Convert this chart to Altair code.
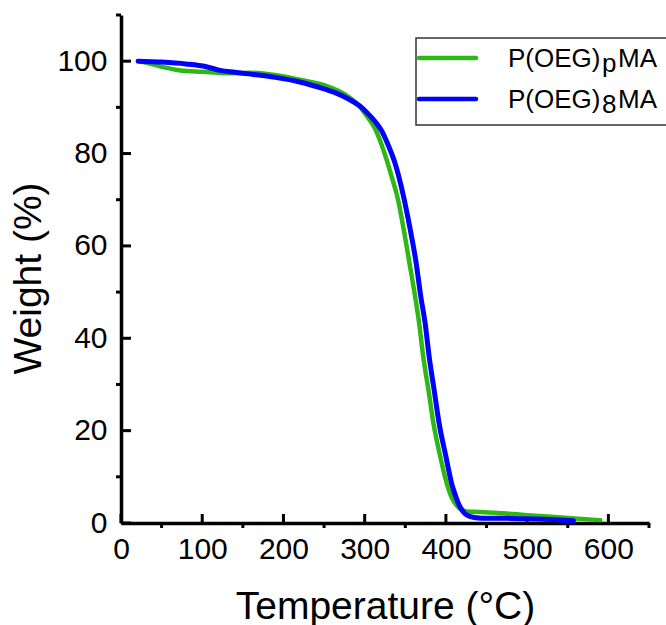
import altair as alt
import pandas as pd

# ---- data ----
series_names = ["P(OEG)pMA", "P(OEG)8MA"]
series_base = ["P(OEG)", "P(OEG)"]
series_sub = ["p", "8"]
series_tail = ["MA", "MA"]
series_colors = ["#2DB814", "#0000FF"]

temp_p = [23, 50, 73, 100, 130, 160, 190, 220, 250, 262, 280, 294, 303, 313, 321,
          328, 334, 340, 348, 355, 362, 367, 372, 378.5, 384.6, 393, 401, 406, 411,
          418, 426, 442, 470, 500, 550, 590]
weight_p = [100, 98.8, 98.0, 97.7, 97.4, 97.5, 97.0, 96.0, 94.8, 94.0, 92.3, 90.2,
            88.0, 85.3, 81.8, 78.1, 74.5, 70.8, 63.6, 56.4, 49.1, 43.3, 36.1, 28.8,
            21.6, 14.4, 8.6, 6.0, 4.3, 3.0, 2.5, 2.4, 2.1, 1.7, 1.1, 0.6]

temp_8 = [21, 50, 80, 105, 122, 140, 160, 190, 220, 250, 262, 280, 294, 302, 310,
          316, 321, 329, 337, 347.7, 356, 363.3, 369, 374.4, 379.3, 385.5, 391.6,
          400, 407, 411, 415, 419, 423, 428, 435, 445, 480, 520, 557]
weight_8 = [100, 99.8, 99.4, 98.8, 98.0, 97.6, 97.2, 96.5, 95.5, 94.0, 93.3, 91.8,
            90.3, 89.0, 87.5, 86.2, 84.9, 81.8, 78.1, 70.8, 63.6, 56.4, 49.1, 43.3,
            36.1, 28.8, 21.6, 14.4, 8.6, 6.3, 4.4, 3.0, 2.1, 1.5, 1.2, 1.05, 1.0,
            0.8, 0.5]

x_major = [0, 100, 200, 300, 400, 500, 600]
x_minor = [50, 150, 250, 350, 450, 550, 650]
y_major = [0, 20, 40, 60, 80, 100]
y_minor = [10, 30, 50, 70, 90, 110]

# ---- layout ----
W, H = 528, 508
FONT = "Liberation Sans"

xscale = alt.Scale(domain=[0, 650], nice=False, zero=False)
yscale = alt.Scale(domain=[0, 110], nice=False, zero=False)

xaxis = alt.Axis(values=x_major, ticks=False, grid=False, domainWidth=3.5,
                 domainColor="black", labelFont=FONT, labelFontSize=30,
                 labelColor="black", labelPadding=11, labelFlush=False,
                 title="Temperature (°C)", titleFont=FONT, titleFontSize=39,
                 titleFontWeight="normal", titleColor="black",
                 titleBaseline="alphabetic", titleY=95)
yaxis = alt.Axis(values=y_major, ticks=False, grid=False, domainWidth=3.5,
                 domainColor="black", labelFont=FONT, labelFontSize=30,
                 labelColor="black", labelPadding=14, labelFlush=False,
                 title="Weight (%)", titleFont=FONT, titleFontSize=39,
                 titleFontWeight="normal", titleColor="black",
                 titleBaseline="alphabetic", titleAngle=270,
                 titleX=-81, titleY=263)

df_p = pd.DataFrame({"T": temp_p, "W": weight_p})
df_8 = pd.DataFrame({"T": temp_8, "W": weight_8})


def curve(df, color, width):
    return alt.Chart(df).mark_line(color=color, strokeWidth=width,
                                   interpolate="monotone", strokeCap="round",
                                   strokeJoin="round").encode(
        x=alt.X("T:Q", scale=xscale, axis=xaxis),
        y=alt.Y("W:Q", scale=yscale, axis=yaxis),
    )


line_p = curve(df_p, series_colors[0], 4.5)
line_8 = curve(df_8, series_colors[1], 5)

# ticks: major inside, minor outside
xmaj = alt.Chart(pd.DataFrame({"v": x_major})).mark_rule(color="black", strokeWidth=3).encode(
    x=alt.X("v:Q", scale=xscale, axis=xaxis), y=alt.value(H), y2=alt.value(H - 9))
xmin = alt.Chart(pd.DataFrame({"v": x_minor})).mark_rule(color="black", strokeWidth=3).encode(
    x=alt.X("v:Q", scale=xscale, axis=xaxis), y=alt.value(H), y2=alt.value(H + 5))
ymaj = alt.Chart(pd.DataFrame({"v": y_major})).mark_rule(color="black", strokeWidth=3).encode(
    y=alt.Y("v:Q", scale=yscale, axis=yaxis), x=alt.value(0), x2=alt.value(10))
ymin = alt.Chart(pd.DataFrame({"v": y_minor})).mark_rule(color="black", strokeWidth=3).encode(
    y=alt.Y("v:Q", scale=yscale, axis=yaxis), x=alt.value(-5), x2=alt.value(0))

# ---- legend (manual, to allow subscripts) ----
one = pd.DataFrame({"a": [0]})
box = alt.Chart(one).mark_rect(fill="white", stroke="#333333", strokeWidth=1.5).encode(
    x=alt.value(295), x2=alt.value(552), y=alt.value(23), y2=alt.value(110))

legend_layers = [box]
row_y = [43, 84]
text_base_y = [52, 93]
for i in range(2):
    legend_layers.append(
        alt.Chart(one).mark_rule(color=series_colors[i], strokeWidth=4.5, strokeCap="round").encode(
            x=alt.value(298), x2=alt.value(355), y=alt.value(row_y[i])))
    for txt, xpos, dy in [(series_base[i], 387, 0), (series_sub[i], 481, 5), (series_tail[i], 497, 0)]:
        legend_layers.append(
            alt.Chart(pd.DataFrame({"t": [txt]})).mark_text(
                align="left", baseline="alphabetic", font=FONT, fontSize=26, color="black").encode(
                x=alt.value(xpos), y=alt.value(text_base_y[i] + dy), text="t:N"))

chart = alt.layer(xmaj, xmin, ymaj, ymin, line_p, line_8, *legend_layers).properties(
    width=W, height=H,
    autosize=alt.AutoSizeParams(type="none"),
    padding={"left": 121, "top": 15, "right": 17, "bottom": 102},
    background="white",
).configure_view(stroke=None)

chart.save("out.html", embed_options={"renderer": "svg", "actions": False})
